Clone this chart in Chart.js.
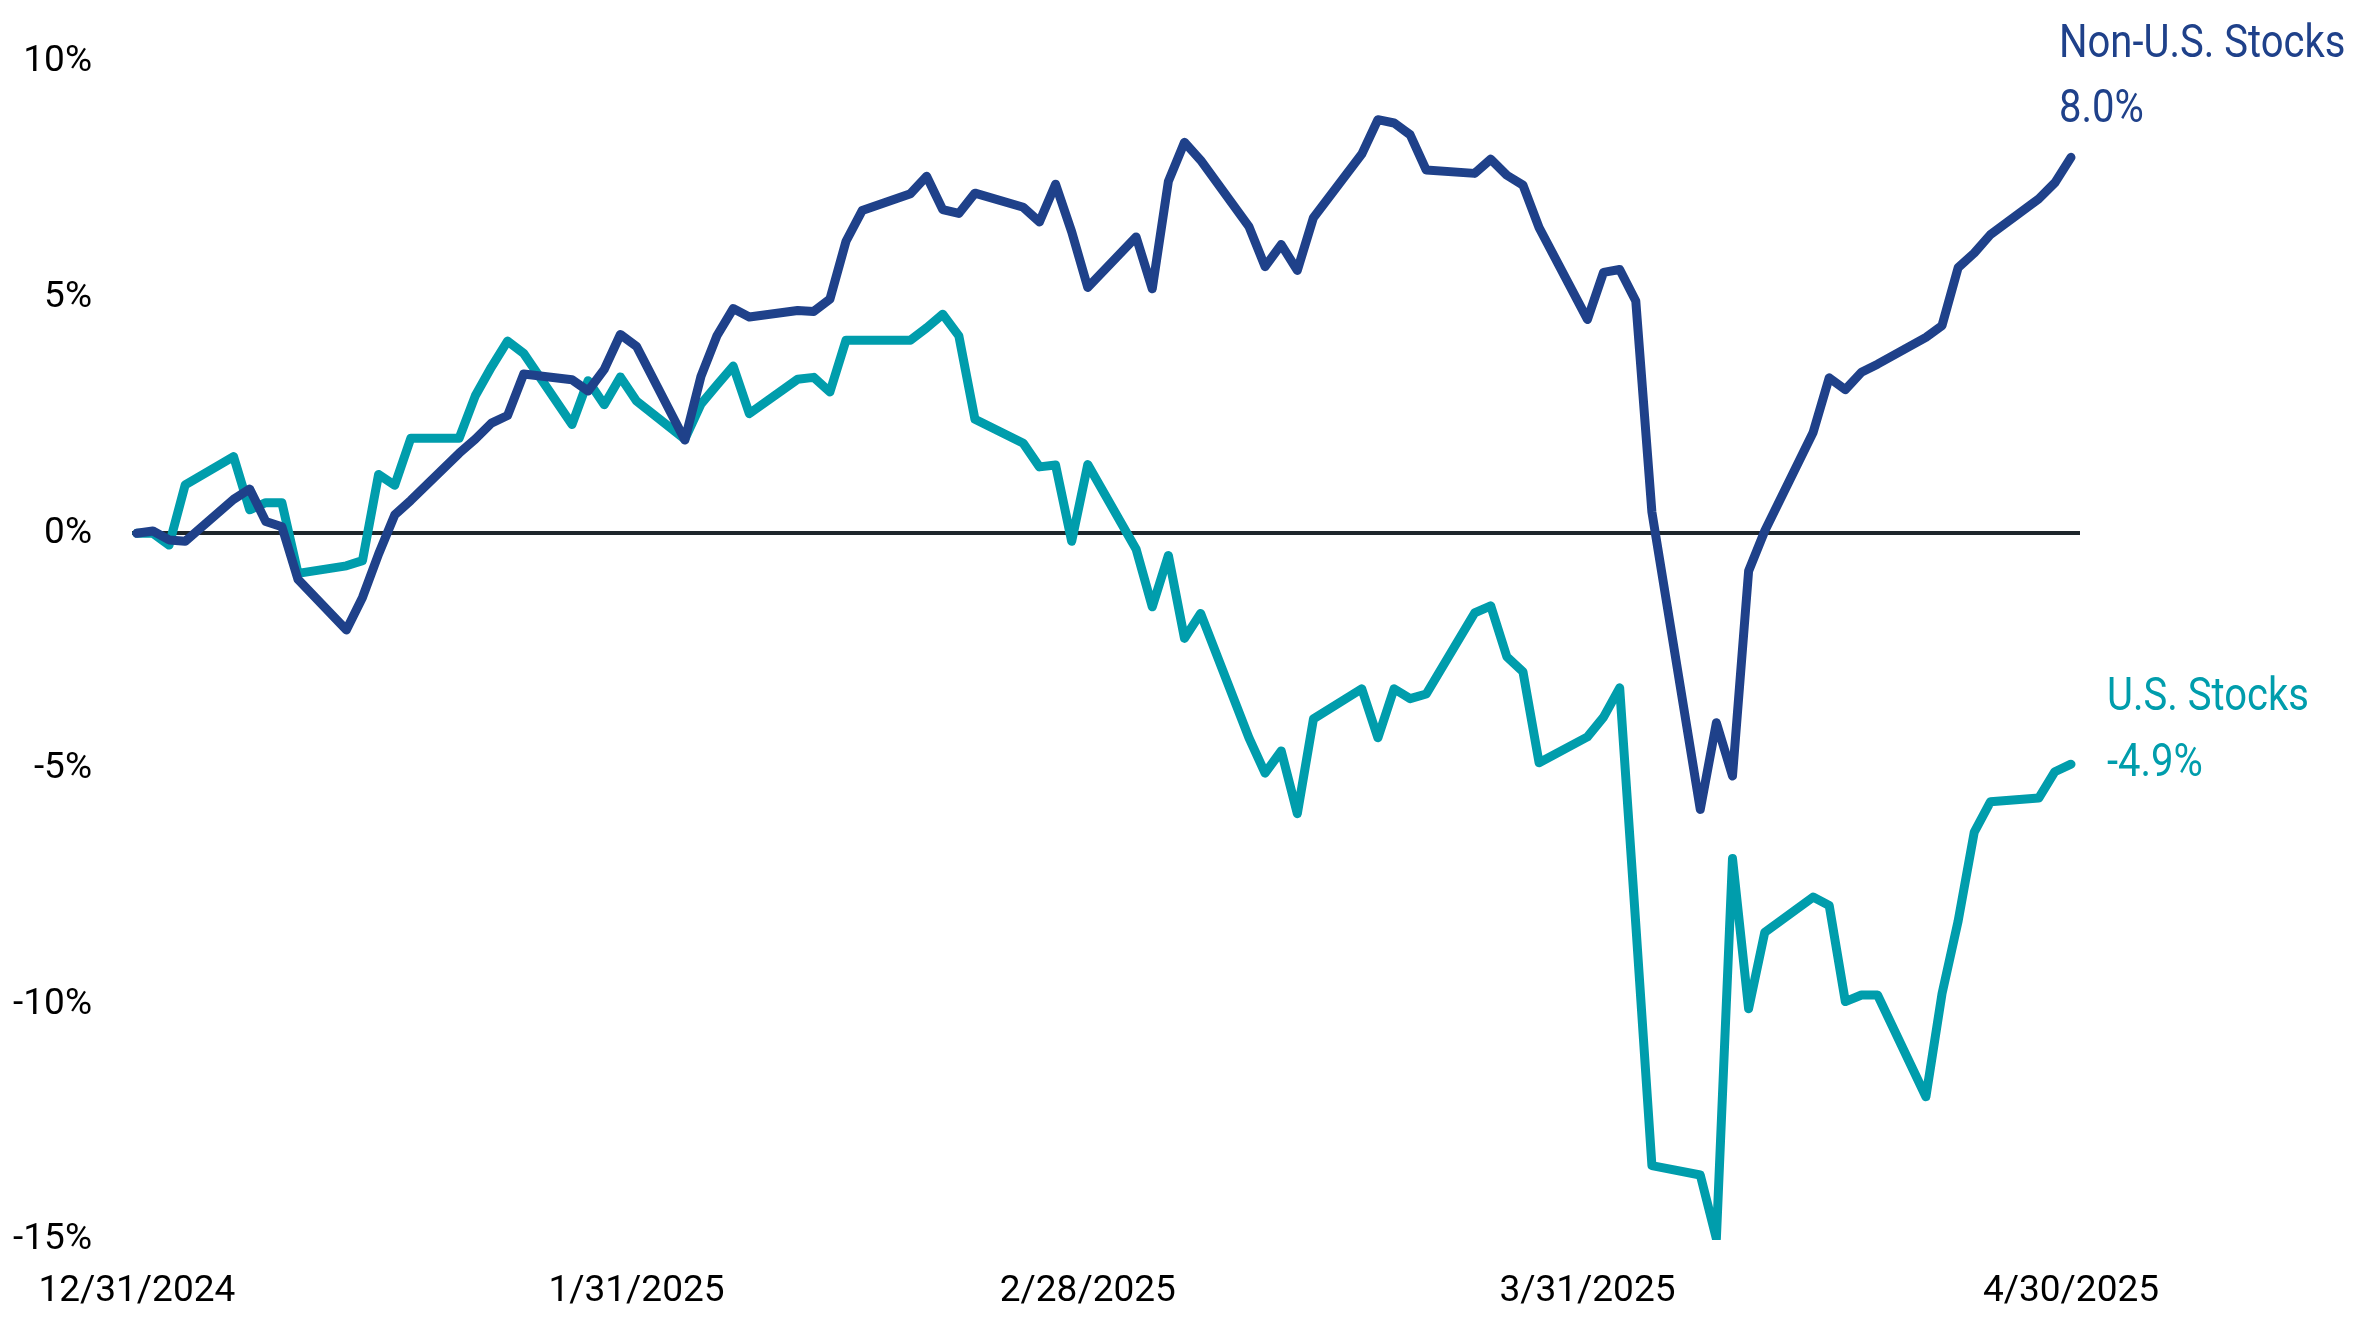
<!DOCTYPE html>
<html><head><meta charset="utf-8">
<script src="https://cdn.jsdelivr.net/npm/chart.js@4.4.1/dist/chart.umd.min.js"></script>
<style>html,body{margin:0;padding:0;background:#fff;overflow:hidden}</style>
</head><body>
<canvas id="c" width="2355" height="1329" style="display:block;width:2355px;height:1329px"></canvas>
<script>
const dates = [
'2024-12-31','2025-01-01','2025-01-02','2025-01-03',
'2025-01-06','2025-01-07','2025-01-08','2025-01-09','2025-01-10',
'2025-01-13','2025-01-14','2025-01-15','2025-01-16','2025-01-17',
'2025-01-20','2025-01-21','2025-01-22','2025-01-23','2025-01-24',
'2025-01-27','2025-01-28','2025-01-29','2025-01-30','2025-01-31',
'2025-02-03','2025-02-04','2025-02-05','2025-02-06','2025-02-07',
'2025-02-10','2025-02-11','2025-02-12','2025-02-13','2025-02-14',
'2025-02-17','2025-02-18','2025-02-19','2025-02-20','2025-02-21',
'2025-02-24','2025-02-25','2025-02-26','2025-02-27','2025-02-28',
'2025-03-03','2025-03-04','2025-03-05','2025-03-06','2025-03-07',
'2025-03-10','2025-03-11','2025-03-12','2025-03-13','2025-03-14',
'2025-03-17','2025-03-18','2025-03-19','2025-03-20','2025-03-21',
'2025-03-24','2025-03-25','2025-03-26','2025-03-27','2025-03-28',
'2025-03-31','2025-04-01','2025-04-02','2025-04-03','2025-04-04',
'2025-04-07','2025-04-08','2025-04-09','2025-04-10','2025-04-11',
'2025-04-14','2025-04-15','2025-04-16','2025-04-17','2025-04-18',
'2025-04-21','2025-04-22','2025-04-23','2025-04-24','2025-04-25',
'2025-04-28','2025-04-29','2025-04-30'];

const nonUSStocks = [
0.00, 0.05, -0.14, -0.17,
0.72, 0.94, 0.25, 0.14, -0.98,
-2.05, -1.36, -0.44, 0.39, 0.70,
1.70, 2.00, 2.34, 2.50, 3.38,
3.26, 3.02, 3.48, 4.22, 3.97,
1.98, 3.33, 4.20, 4.77, 4.59,
4.73, 4.71, 4.97, 6.20, 6.85,
7.21, 7.58, 6.87, 6.79, 7.22,
6.92, 6.61, 7.41, 6.40, 5.22,
6.29, 5.19, 7.47, 8.30, 7.92,
6.51, 5.66, 6.13, 5.58, 6.70,
8.05, 8.78, 8.71, 8.46, 7.71,
7.64, 7.94, 7.60, 7.39, 6.49,
4.54, 5.54, 5.60, 4.93, 0.45,
-5.86, -4.02, -5.15, -0.80, 0.05,
2.14, 3.30, 3.05, 3.42, 3.59,
4.16, 4.41, 5.64, 5.95, 6.34,
7.10, 7.44, 7.98];

const usStocks = [
0.00, 0.00, -0.25, 1.03,
1.63, 0.50, 0.65, 0.65, -0.85,
-0.69, -0.58, 1.25, 1.02, 2.02,
2.02, 2.92, 3.53, 4.08, 3.82,
2.31, 3.24, 2.73, 3.32, 2.81,
2.00, 2.74, 3.15, 3.55, 2.54,
3.27, 3.31, 3.00, 4.10, 4.10,
4.10, 4.36, 4.65, 4.19, 2.42,
1.91, 1.41, 1.45, -0.17, 1.46,
-0.34, -1.56, -0.47, -2.23, -1.70,
-4.34, -5.09, -4.62, -5.95, -3.94,
-3.30, -4.34, -3.30, -3.51, -3.41,
-1.69, -1.54, -2.62, -2.94, -4.87,
-4.32, -3.90, -3.28, -8.30, -13.42,
-13.62, -14.97, -6.90, -10.09, -8.47,
-7.72, -7.90, -9.94, -9.80, -9.80,
-11.96, -9.77, -8.23, -6.34, -5.70,
-5.62, -5.06, -4.90];

const tickDates = ['2024-12-31','2025-01-31','2025-02-28','2025-03-31','2025-04-30'];
const tickLabels = ['12/31/2024','1/31/2025','2/28/2025','3/31/2025','4/30/2025'];
const yTickValues = [-15, -10, -5, 0, 5, 10];

const seriesNames = ['Non-U.S. Stocks', 'U.S. Stocks'];
const seriesColors = ['#1F418A', '#009DAC'];

const DAY = 86400000;
const origin = Date.parse('2024-12-31T00:00:00Z');
const dayOf = s => Math.round((Date.parse(s + 'T00:00:00Z') - origin) / DAY);
const tickDays = tickDates.map(dayOf);

const toPoints = vals => dates.map((d, i) => ({x: dayOf(d), y: vals[i]}));

const endLabels = {
  id: 'endLabels',
  afterDatasetsDraw(chart) {
    const ctx = chart.ctx, xs = chart.scales.x, ys = chart.scales.y;
    const cfg = [
      {ds: 0, dx: -12, dyName: -112, dyVal: -47},
      {ds: 1, dx: 36, dyName: -66, dyVal: 0}
    ];
    cfg.forEach(c => {
      const data = chart.data.datasets[c.ds].data;
      const last = data[data.length - 1];
      const x = xs.getPixelForValue(last.x) + c.dx;
      const y = ys.getPixelForValue(last.y);
      ctx.save();
      ctx.fillStyle = seriesColors[c.ds];
      ctx.font = '46px Roboto, "Noto Sans", sans-serif';
      ctx.textAlign = 'left';
      ctx.textBaseline = 'middle';
      [[seriesNames[c.ds], c.dyName], [last.y.toFixed(1) + '%', c.dyVal]].forEach(([t, dy]) => {
        ctx.save();
        ctx.translate(x, y + dy);
        ctx.scale(0.87, 1);
        ctx.fillText(t, 0, 0);
        ctx.restore();
      });
      ctx.restore();
    });
  }
};

new Chart(document.getElementById('c'), {
  type: 'line',
  data: {
    datasets: [
      {label: seriesNames[0], data: toPoints(nonUSStocks), borderColor: seriesColors[0], order: 0},
      {label: seriesNames[1], data: toPoints(usStocks), borderColor: seriesColors[1], order: 1}
    ].map(d => Object.assign(d, {borderWidth: 9, pointRadius: 0, tension: 0, fill: false,
      borderJoinStyle: 'round', borderCapStyle: 'round'}))
  },
  options: {
    responsive: false,
    animation: false,
    devicePixelRatio: 1,
    layout: {padding: {left: 0, right: 275, top: 60, bottom: 0}},
    plugins: {legend: {display: false}, tooltip: {enabled: false}, title: {display: false}},
    scales: {
      x: {
        type: 'linear',
        min: -0.3,
        max: 120.56,
        afterBuildTicks: s => { s.ticks = tickDays.map(v => ({value: v})); },
        afterFit: s => { s.height = 89; },
        grid: {display: false, drawTicks: false},
        border: {display: false},
        ticks: {
          autoSkip: false, maxRotation: 0, minRotation: 0, padding: 30,
          color: '#000',
          font: {family: 'Roboto', size: 37},
          callback: v => { const i = tickDays.indexOf(v); return i >= 0 ? tickLabels[i] : ''; }
        }
      },
      y: {
        min: -15,
        max: 10,
        afterBuildTicks: s => { s.ticks = yTickValues.map(v => ({value: v})); },
        afterFit: s => { s.width = 132; },
        grid: {
          drawTicks: false,
          lineWidth: 4,
          color: c => (c.tick && c.tick.value === 0) ? '#1E262B' : 'rgba(0,0,0,0)'
        },
        border: {display: false},
        ticks: {
          padding: 40,
          color: '#000',
          font: {family: 'Roboto', size: 37},
          callback: v => v + '%'
        }
      }
    }
  },
  plugins: [endLabels]
});
</script>
</body></html>
